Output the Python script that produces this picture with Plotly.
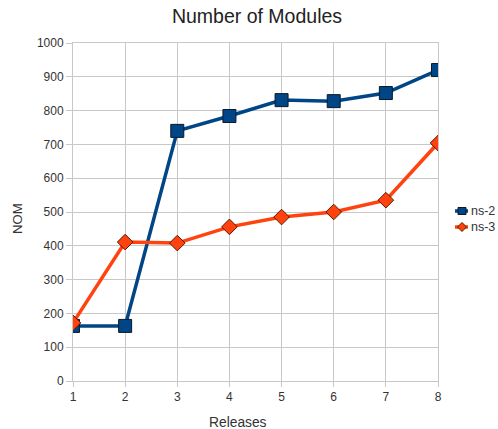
import plotly.graph_objects as go

releases = [1, 2, 3, 4, 5, 6, 7, 8]
ns2 = [163, 163, 740, 784, 831, 828, 852, 920]
ns3 = [172, 411, 408, 456, 485, 500, 535, 704]
y_ticks = [0, 100, 200, 300, 400, 500, 600, 700, 800, 900, 1000]

W, H = 498, 429
ML, MR, MT, MB = 73, 60, 43, 48
PW, PH = W - ML - MR, H - MT - MB

series = [
    dict(name="ns-2", y=ns2, color="#004586", edge="#0a1a2a", symbol="square", size=13),
    dict(name="ns-3", y=ns3, color="#ff420e", edge="#5a1a00", symbol="diamond", size=12),
]

fig = go.Figure()
for s in series:
    fig.add_trace(go.Scatter(
        x=releases, y=s["y"], name=s["name"], mode="lines+markers",
        line=dict(color=s["color"], width=3.5),
        marker=dict(symbol=s["symbol"], size=s["size"], color=s["color"],
                    line=dict(color=s["edge"], width=1)),
        showlegend=False,
    ))


# pixel -> paper fraction helpers for the hand-built legend and titles
def fx(p):
    return (p - ML) / PW


def fy(p):
    return (H - MB - p) / PH


shapes, annotations = [], []
for i, s in enumerate(series):
    cy = 211 + i * 16
    shapes.append(dict(type="line", xref="paper", yref="paper",
                       x0=fx(455), x1=fx(468), y0=fy(cy), y1=fy(cy),
                       line=dict(color=s["color"], width=3.5)))
    if s["symbol"] == "square":
        shapes.append(dict(type="rect", xref="paper", yref="paper",
                           x0=fx(458), x1=fx(466), y0=fy(cy + 3.5), y1=fy(cy - 3.5),
                           fillcolor=s["color"], line=dict(color=s["edge"], width=1)))
    else:
        cx = 462
        path = "M {},{} L {},{} L {},{} L {},{} Z".format(
            fx(cx), fy(cy - 4.5), fx(cx + 4.5), fy(cy),
            fx(cx), fy(cy + 4.5), fx(cx - 4.5), fy(cy))
        shapes.append(dict(type="path", xref="paper", yref="paper", path=path,
                           fillcolor=s["color"], line=dict(color=s["edge"], width=1)))
    annotations.append(dict(text=s["name"], xref="paper", yref="paper",
                            x=fx(469), y=fy(cy),
                            xanchor="left", yanchor="middle", showarrow=False,
                            font=dict(size=12.5, color="#333333")))

# Axis titles
annotations.append(dict(text="Releases", xref="paper", yref="paper",
                        x=fx(238), y=fy(422),
                        xanchor="center", yanchor="middle", showarrow=False,
                        font=dict(size=13.8, color="#333333")))
annotations.append(dict(text="NOM", xref="paper", yref="paper", textangle=-90,
                        x=fx(17), y=fy(219),
                        xanchor="center", yanchor="middle", showarrow=False,
                        font=dict(size=13.2, color="#333333")))

axis_font = dict(family="Liberation Sans, Arial, sans-serif", size=12, color="#333333")
fig.update_layout(
    width=W, height=H,
    margin=dict(l=ML, r=MR, t=MT, b=MB, autoexpand=False),
    paper_bgcolor="white", plot_bgcolor="white",
    font=dict(family="Liberation Sans, Arial, sans-serif", color="#222222"),
    title=dict(text="Number of Modules", x=257 / W, xanchor="center", y=1 - 16 / H,
               yanchor="middle", font=dict(size=19.5, color="#222222")),
    xaxis=dict(
        range=[1, 8], tickvals=releases, ticktext=[str(r) for r in releases],
        showgrid=True, gridcolor="#c8c8c8", gridwidth=1,
        ticks="outside", ticklen=5, tickcolor="#c8c8c8",
        showline=True, linecolor="#c8c8c8", mirror=True,
        zeroline=False, tickfont=axis_font, automargin=False,
    ),
    yaxis=dict(
        range=[0, 1000], tickvals=y_ticks,
        showgrid=True, gridcolor="#c8c8c8", gridwidth=1,
        ticks="outside", ticklen=6, tickcolor="#c8c8c8",
        showline=True, linecolor="#c8c8c8", mirror=True,
        zeroline=False, tickfont=axis_font, automargin=False,
    ),
    shapes=shapes,
    annotations=annotations,
    showlegend=False,
)

fig.write_html("out.html")
